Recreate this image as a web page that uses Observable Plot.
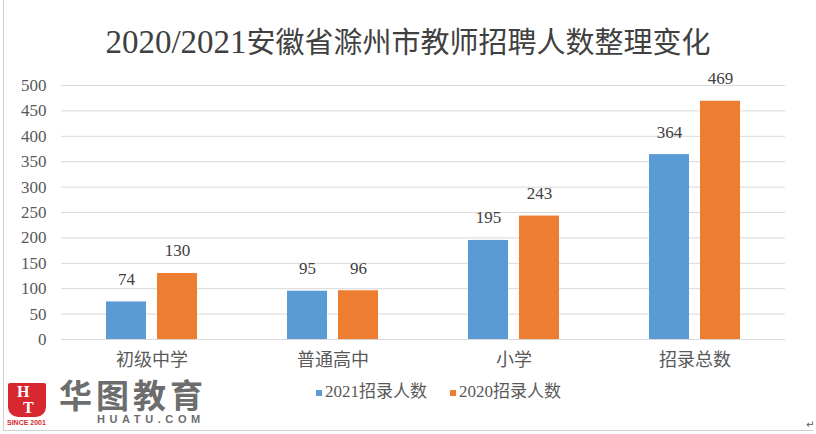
<!DOCTYPE html>
<html>
<head>
<meta charset="utf-8">
<script src="https://cdn.jsdelivr.net/npm/d3@7"></script>
<script src="https://cdn.jsdelivr.net/npm/@observablehq/plot@0.6"></script>
<style>
  html, body { margin: 0; padding: 0; background: #fff; }
  #wrap { position: relative; width: 816px; height: 434px; overflow: hidden; background: #fff;
    font-family: 'Liberation Serif', 'Noto Sans CJK SC', serif; }
  #title { position: absolute; left: 0; top: 22px; width: 816px; text-align: center;
    font-size: 29px; color: #404040; line-height: 40px; white-space: nowrap; }
  #title .d { font-size: 33px; }
  #chart { position: absolute; left: 0; top: 60px; }
  #chart svg text { font-family: 'Liberation Serif', 'Noto Sans CJK SC', serif !important; }
  .leg { position: absolute; top: 382px; font-size: 17px; color: #595959; line-height: 20px; white-space: nowrap; }
  .sw { position: absolute; width: 6px; height: 6px; }
  #bl { position: absolute; left: 3px; top: 0; width: 1px; height: 430px; background: #d0d0d0; }
  #bb { position: absolute; left: 3px; top: 430px; width: 810px; height: 1px; background: #d0d0d0; }
  #shield { position: absolute; left: 8px; top: 383px; width: 38px; height: 34px; background: #d7282f;
    border-radius: 2px 2px 10px 10px; color: #fff; font-family: 'Liberation Serif', serif; font-weight: bold; }
  #logo-cn { position: absolute; left: 59px; top: 377px; font-family: 'Noto Sans CJK SC', sans-serif;
    font-weight: bold; font-size: 33px; color: #6d6d6d; letter-spacing: 4px; line-height: 34px; white-space: nowrap; }
  #logo-en { position: absolute; left: 97px; top: 414px; font-family: 'Liberation Sans', sans-serif;
    font-weight: bold; font-size: 11px; color: #6d6d6d; letter-spacing: 4.6px; line-height: 11px; white-space: nowrap; }
  #since { position: absolute; left: 7px; top: 419px; font-family: 'Liberation Sans', sans-serif;
    font-weight: bold; font-size: 7px; color: #d7282f; line-height: 8px; white-space: nowrap; }
  #ret { position: absolute; left: 806px; top: 419px; font-size: 10px; color: #555; font-family: 'DejaVu Sans', sans-serif; }
</style>
</head>
<body>
<div id="wrap">
  <div id="bl"></div>
  <div id="bb"></div>
  <div id="title"><span class="d">2020/2021</span>安徽省滁州市教师招聘人数整理变化</div>
  <div id="chart"></div>
  <div id="legend"></div>
  <div id="shield"><span style="position:absolute;left:9px;top:1px;font-size:16px;line-height:15px;">H</span><span style="position:absolute;left:15px;top:17px;font-size:16px;line-height:15px;">T</span></div>
  <div id="since">SINCE 2001</div>
  <div id="logo-cn">华图教育</div>
  <div id="logo-en">HUATU.COM</div>
  <div id="ret">↵</div>
</div>
<script>
const categories = ["初级中学", "普通高中", "小学", "招录总数"];
const series = ["2021招录人数", "2020招录人数"];
const values2021 = [74, 95, 195, 364];
const values2020 = [130, 96, 243, 469];
const yTicks = [0, 50, 100, 150, 200, 250, 300, 350, 400, 450, 500];
const colors = ["#5B9BD5", "#ED7D31"];

const data = [];
categories.forEach((c, i) => {
  data.push({category: c, series: series[0], value: values2021[i]});
  data.push({category: c, series: series[1], value: values2020[i]});
});

const chart = Plot.plot({
  width: 816,
  height: 320,
  marginLeft: 60,
  marginRight: 31,
  marginTop: 25,
  marginBottom: 41,
  style: {background: "transparent", overflow: "visible"},
  fx: {domain: categories, padding: 0, label: null},
  x: {domain: series, paddingInner: 0.216, paddingOuter: 0.88, axis: null},
  y: {domain: [0, 500], label: null},
  color: {domain: series, range: colors},
  marks: [
    Plot.ruleY(yTicks, {stroke: "#d9d9d9", strokeWidth: 1}),
    Plot.axisY({ticks: yTicks, tickSize: 0, tickPadding: 15, fontSize: 17, fill: "#595959", label: null}),
    Plot.axisFx({anchor: "bottom", tickSize: 0, tickPadding: 14, fontSize: 18, fill: "#595959", label: null}),
    Plot.barY(data, {fx: "category", x: "series", y: "value", fill: "series"}),
    Plot.text(data, {fx: "category", x: "series", y: "value", text: d => String(d.value),
      lineAnchor: "bottom", dy: -17, fontSize: 17, fill: "#404040"})
  ]
});
document.getElementById("chart").appendChild(chart);

// legend
const legend = document.getElementById("legend");
const legPos = [{sw: 316, tx: 325}, {sw: 450, tx: 459}];
series.forEach((s, i) => {
  const sw = document.createElement("div");
  sw.className = "sw";
  sw.style.left = legPos[i].sw + "px";
  sw.style.top = "390px";
  sw.style.background = colors[i];
  legend.appendChild(sw);
  const t = document.createElement("div");
  t.className = "leg";
  t.style.left = legPos[i].tx + "px";
  t.textContent = s;
  legend.appendChild(t);
});
</script>
</body>
</html>
